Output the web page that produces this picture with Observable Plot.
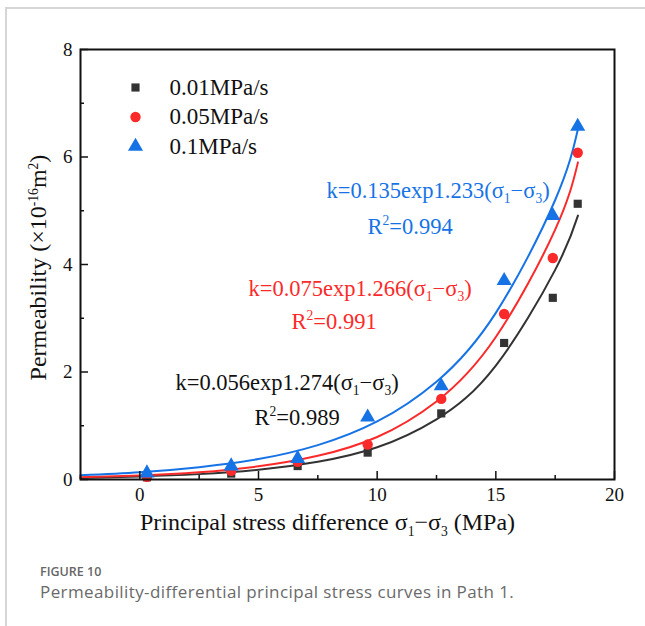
<!DOCTYPE html>
<html>
<head>
<meta charset="utf-8">
<script src="https://cdn.jsdelivr.net/npm/d3@7"></script>
<script src="https://cdn.jsdelivr.net/npm/@observablehq/plot@0.6"></script>
<style>
  html, body { margin: 0; padding: 0; background: #fff; width: 645px; height: 626px; overflow: hidden; }
  #wrap { position: relative; width: 645px; height: 626px; }
  #card { position: absolute; left: 5px; top: 7px; width: 800px; height: 800px;
          border-left: 2px solid #d6d6d6; border-top: 2px solid #d6d6d6; box-sizing: border-box; }
  #chart { position: absolute; left: 0; top: 0; }
  #cap1 { position: absolute; left: 40px; top: 563px; font-family: "Open Sans", sans-serif;
          font-size: 12.5px; font-weight: 600; color: #666; }
  #cap2 { position: absolute; left: 40px; top: 580px; font-family: "Open Sans", sans-serif;
          font-size: 17px; letter-spacing: 0.4px; color: #6a6a6a; }
</style>
</head>
<body>
<div id="wrap">
  <div id="card"></div>
  <div id="chart"></div>
  <div id="cap1">FIGURE 10</div>
  <div id="cap2">Permeability-differential principal stress curves in Path 1.</div>
</div>
<script>
// ---- data ----
const seriesNames = ["0.01MPa/s", "0.05MPa/s", "0.1MPa/s"];
const stressPts = [0.3, 3.85, 6.65, 9.6, 12.7, 15.35, 17.4, 18.45];
const perm001 = [0.04, 0.11, 0.25, 0.50, 1.23, 2.54, 3.38, 5.13];
const perm005 = [0.05, 0.16, 0.33, 0.65, 1.50, 3.08, 4.12, 6.08];
const perm01  = [0.12, 0.25, 0.39, 1.16, 1.74, 3.70, 4.91, 6.57];

const fitStress = [-2.5, 0, 2.5, 5, 7.5, 10, 12.5, 15, 17.5, 18.46];
const fit001 = [0.03, 0.056, 0.10, 0.18, 0.33, 0.60, 1.12, 2.12, 3.90, 4.91];
const fit005 = [0.04, 0.075, 0.135, 0.245, 0.44, 0.79, 1.45, 2.65, 4.65, 5.90];
const fit01  = [0.08, 0.135, 0.23, 0.38, 0.64, 1.08, 1.82, 3.10, 5.20, 6.52];

const fitEquations = ["k=0.056exp1.274(σ_{1}−σ_{3})", "k=0.075exp1.266(σ_{1}−σ_{3})", "k=0.135exp1.233(σ_{1}−σ_{3})"];
const fitR2 = ["R^{2}=0.989", "R^{2}=0.991", "R^{2}=0.994"];

const xTicks = [0, 5, 10, 15, 20];
const xMinor = [-2.5, 2.5, 7.5, 12.5, 17.5];
const yTicks = [0, 2, 4, 6, 8];
const yMinor = [1, 3, 5, 7];
const xLabel = "Principal stress difference σ_{1}−σ_{3} (MPa)";
const yLabel = "Permeability (×10^{-16}m^{2})";

// ---- build tables ----
const colors = ["#333333", "#fb2a2a", "#1673e6"];
const symbols = ["square", "circle", "triangle"];
const radii = [4.6, 5.2, 5.6];
const permSets = [perm001, perm005, perm01];
const fitSets = [fit001, fit005, fit01];
const points = permSets.map(vals => vals.map((v, i) => ({x: stressPts[i], y: v})));
const fits = fitSets.map(vals => vals.map((v, i) => ({x: fitStress[i], y: v})));

// annotation placement (pixels from frame top-left)
const eqPos = [[95, 333], [168, 239], [246, 141]];
const r2Pos = [[174, 368], [211, 272], [287, 177]];

const marks = [];
for (let s = 0; s < 3; s++) {
  marks.push(Plot.line(fits[s], {x: "x", y: "y", stroke: colors[s], strokeWidth: 2, curve: "natural"}));
}
for (let s = 0; s < 3; s++) {
  marks.push(Plot.dot(points[s], {x: "x", y: "y", symbol: symbols[s], fill: colors[s], r: radii[s], stroke: "none"}));
}
// legend
for (let s = 0; s < 3; s++) {
  marks.push(Plot.dot([seriesNames[s]], {frameAnchor: "top-left", dx: 55, dy: 38 + 29.5 * s,
    symbol: symbols[s], fill: colors[s], r: radii[s], stroke: "none"}));
  marks.push(Plot.text([seriesNames[s]], {frameAnchor: "top-left", dx: 89, dy: 38 + 29.5 * s,
    text: d => d, textAnchor: "start", lineAnchor: "middle", fontSize: 23, fill: "#111"}));
}
// fit annotations
for (let s = 0; s < 3; s++) {
  marks.push(Plot.text([fitEquations[s]], {frameAnchor: "top-left", dx: eqPos[s][0], dy: eqPos[s][1],
    text: d => d, textAnchor: "start", lineAnchor: "middle", fontSize: 22.5, fill: s === 0 ? "#111" : colors[s]}));
  marks.push(Plot.text([fitR2[s]], {frameAnchor: "top-left", dx: r2Pos[s][0], dy: r2Pos[s][1],
    text: d => d, textAnchor: "start", lineAnchor: "middle", fontSize: 22.5, fill: s === 0 ? "#111" : colors[s]}));
}
// axis labels
marks.push(Plot.text([xLabel], {frameAnchor: "bottom", dy: 43, dx: -20, text: d => d, textAnchor: "middle", lineAnchor: "middle", fontSize: 24, fill: "#111"}));
marks.push(Plot.text([yLabel], {frameAnchor: "left", dx: -42, dy: 3, rotate: -90, text: d => d, textAnchor: "middle", lineAnchor: "middle", fontSize: 24, fill: "#111"}));

const plot = Plot.plot({
  width: 645,
  height: 545,
  marginLeft: 80,
  marginRight: 31,
  marginTop: 49,
  marginBottom: 66,
  style: {fontFamily: "'Liberation Serif', 'Times New Roman', serif", fontSize: "19px", color: "#111", background: "transparent", overflow: "visible"},
  x: {domain: [-2.5, 20]},
  y: {domain: [0, 8]},
  marks: [
    ...marks,
    Plot.axisX({ticks: xTicks, tickSize: 0, tickPadding: 8, label: null, fontSize: 19}),
    Plot.axisX({ticks: xTicks, tickSize: -8, text: null, label: null, strokeWidth: 1.5}),
    Plot.axisX({ticks: xMinor, tickSize: -4, text: null, label: null, strokeWidth: 1.5}),
    Plot.axisY({ticks: yTicks, tickSize: 0, tickPadding: 8, label: null, fontSize: 19}),
    Plot.axisY({ticks: yTicks, tickSize: -8, text: null, label: null, strokeWidth: 1.5}),
    Plot.axisY({ticks: yMinor, tickSize: -4, text: null, label: null, strokeWidth: 1.5}),
    Plot.frame({stroke: "#111", strokeWidth: 2})
  ]
});

// rich text: sub/superscripts
d3.select(plot).selectAll("text").each(function() {
  const el = this;
  const t = el.textContent;
  if (!/[_^]\{/.test(t)) return;
  const fs = parseFloat(getComputedStyle(el).fontSize) || 20;
  const parts = t.split(/([_^]\{[^}]*\})/);
  el.textContent = "";
  let shift = 0;
  for (const p of parts) {
    if (!p) continue;
    const m = p.match(/^([_^])\{([^}]*)\}$/);
    const ts = d3.select(el).append("tspan");
    if (m) {
      const target = m[1] === "_" ? 0.28 * fs : -0.42 * fs;
      ts.attr("dy", target - shift).attr("font-size", 0.68 * fs).text(m[2]);
      shift = target;
    } else {
      ts.attr("dy", -shift).text(p);
      shift = 0;
    }
  }
});

document.getElementById("chart").appendChild(plot);
</script>
</body>
</html>
